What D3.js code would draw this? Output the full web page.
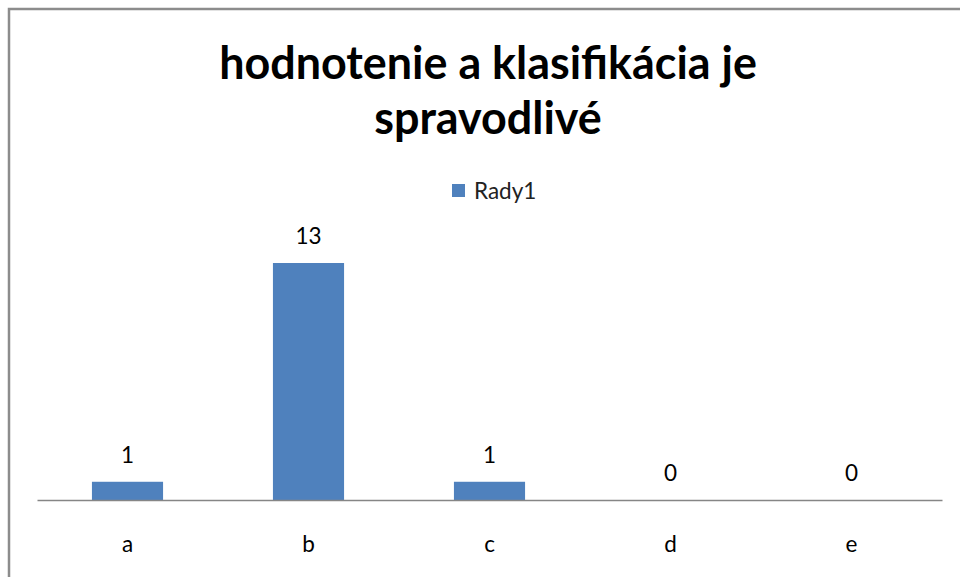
<!DOCTYPE html>
<html>
<head>
<meta charset="utf-8">
<script src="https://cdn.jsdelivr.net/npm/d3@7"></script>
<style>
  html, body { margin: 0; padding: 0; background: #fff; }
  svg { display: block; }
</style>
</head>
<body>
<svg id="chart" width="960" height="577"></svg>
<script>
const categories = ["a", "b", "c", "d", "e"];
const values = [1, 13, 1, 0, 0];
const seriesName = "Rady1";
const titleLines = ["hodnotenie a klasifikácia je", "spravodlivé"];

const W = 960, H = 577;
const svg = d3.select("#chart");
const font = "Lato, 'Open Sans', sans-serif";
const labelSize = 22.5;

// outer border
svg.append("rect")
  .attr("x", 9).attr("y", 9)
  .attr("width", W + 20).attr("height", H + 20)
  .attr("fill", "none").attr("stroke", "#8c8c8c").attr("stroke-width", 2.5);

const plot = { left: 37, right: 942, top: 245, bottom: 500 };

const x = d3.scaleBand()
  .domain(categories)
  .range([plot.left, plot.right])
  .paddingInner(0.607)
  .paddingOuter(0.3035);

const y = d3.scaleLinear()
  .domain([0, 14])
  .range([plot.bottom, plot.bottom - 14 * 18.23]);

// title
const title = svg.append("text")
  .attr("text-anchor", "middle")
  .attr("font-family", font)
  .attr("font-weight", "bold")
  .attr("font-size", 44)
  .attr("fill", "#000");
title.selectAll("tspan").data(titleLines).join("tspan")
  .attr("x", 488)
  .attr("y", (d, i) => 79 + i * 55)
  .text(d => d);
// fit first line width to reference (~538px)
const firstLen = title.select("tspan").node().getComputedTextLength();
title.attr("font-size", 44 * 538 / firstLen);

// legend
const legend = svg.append("g");
legend.append("rect")
  .attr("x", 452).attr("y", 184).attr("width", 13).attr("height", 13)
  .attr("fill", "#4f81bd");
legend.append("text")
  .attr("x", 474).attr("y", 199)
  .attr("font-family", font).attr("font-size", labelSize)
  .attr("fill", "#222")
  .text(seriesName);

// bars
svg.append("g").selectAll("rect").data(values).join("rect")
  .attr("x", (d, i) => x(categories[i]))
  .attr("y", d => y(d))
  .attr("width", x.bandwidth())
  .attr("height", d => y(0) - y(d))
  .attr("fill", "#4f81bd");

// value labels
svg.append("g").selectAll("text").data(values).join("text")
  .attr("x", (d, i) => x(categories[i]) + x.bandwidth() / 2)
  .attr("y", d => y(d) - 19)
  .attr("text-anchor", "middle")
  .attr("font-family", font).attr("font-size", labelSize)
  .attr("fill", "#000")
  .text(d => d);

// x axis
const axis = svg.append("g")
  .attr("transform", `translate(0,${plot.bottom})`)
  .call(d3.axisBottom(x).tickSize(0).tickPadding(36).tickSizeOuter(0));
axis.select(".domain").attr("stroke", "#868686").attr("stroke-width", 1.3);
axis.selectAll(".tick text")
  .attr("font-family", font).attr("font-size", labelSize).attr("fill", "#000");
</script>
</body>
</html>
